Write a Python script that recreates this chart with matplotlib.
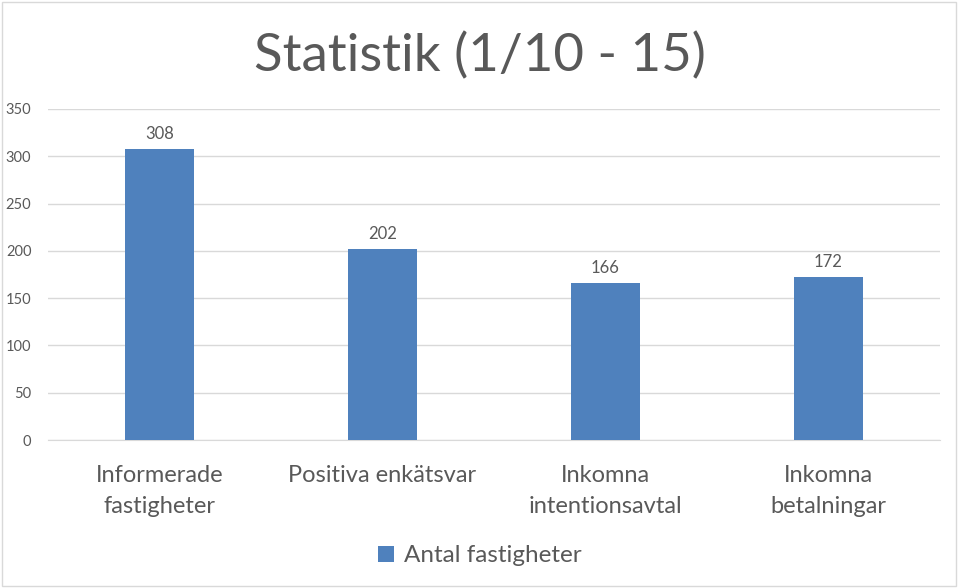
import matplotlib
matplotlib.use("Agg")
import matplotlib.pyplot as plt
from matplotlib.patches import Rectangle

categories = ["Informerade\nfastigheter", "Positiva enkätsvar", "Inkomna\nintentionsavtal", "Inkomna\nbetalningar"]
values = [308, 202, 166, 172]
series_name = "Antal fastigheter"
title = "Statistik (1/10 - 15)"
yticks = [0, 50, 100, 150, 200, 250, 300, 350]

plt.rcParams["font.family"] = ["Lato", "DejaVu Sans"]
text_color = "#595959"
bar_color = "#4F81BD"
grid_color = "#D9D9D9"

fig = plt.figure(figsize=(9.6, 5.88), dpi=100)
ax = fig.add_axes([0.05, 0.2517, 0.929, 0.563])

x = list(range(len(categories)))
bars = ax.bar(x, values, width=0.31, color=bar_color, label=series_name, zorder=3)

for rect, v in zip(bars, values):
    ax.annotate(str(v), (rect.get_x() + rect.get_width() / 2, v), textcoords="offset points",
                xytext=(0, 5), ha="center", va="bottom", fontsize=12, color=text_color)

ax.set_xlim(-0.5, len(categories) - 0.5)
ax.set_ylim(0, 350)
ax.set_yticks(yticks)
ax.set_yticklabels([str(t) for t in yticks], fontsize=10.5, color=text_color)
ax.set_xticks(x)
ax.set_xticklabels(categories, fontsize=17, color=text_color, linespacing=1.6)
ax.tick_params(axis="x", length=0, pad=18)
ax.tick_params(axis="y", length=0, pad=12)
ax.yaxis.grid(True, color=grid_color, linewidth=1, zorder=0)
for side in ["top", "right", "left"]:
    ax.spines[side].set_visible(False)
ax.spines["bottom"].set_color(grid_color)

fig.text(0.5, 0.905, title, ha="center", va="center", fontsize=38, color=text_color)

fig.legend(loc="center", bbox_to_anchor=(0.5, 0.055), frameon=False, fontsize=17.5,
           labelcolor=text_color, handlelength=0.65, handleheight=0.65, handletextpad=0.4)

fig.patches.append(Rectangle((0.002, 0.003), 0.994, 0.994, transform=fig.transFigure,
                             fill=False, edgecolor="#D9D9D9", linewidth=1))

plt.savefig("out.png")
